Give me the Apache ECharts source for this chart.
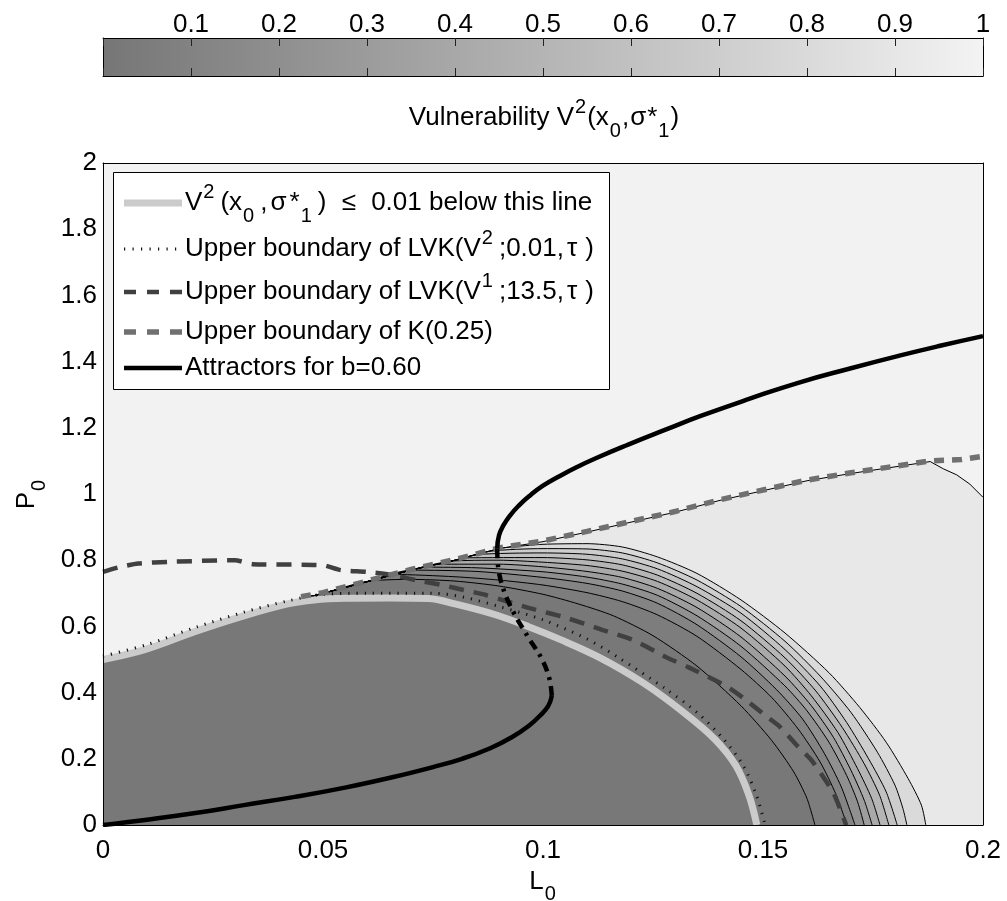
<!DOCTYPE html>
<html>
<head>
<meta charset="utf-8">
<script src="https://cdn.jsdelivr.net/npm/echarts@6/dist/echarts.min.js"></script>
<style>
html,body{margin:0;padding:0;background:#fff;}
#chart{width:1007px;height:901px;}
</style>
</head>
<body>
<div id="chart"></div>
<script>
// ---------- data ----------
var X_TICKS = [0, 0.05, 0.1, 0.15, 0.2];
var Y_TICKS = [0, 0.2, 0.4, 0.6, 0.8, 1, 1.2, 1.4, 1.6, 1.8, 2];
var CB_TICKS = [0.1, 0.2, 0.3, 0.4, 0.5, 0.6, 0.7, 0.8, 0.9, 1];

// upper boundary of the coloured region (thin black line)
var UB = [[0,0.5],[0.01,0.535],[0.02,0.58],[0.03,0.625],[0.04,0.665],[0.05,0.70],[0.06,0.735],[0.07,0.77],[0.08,0.80],[0.09,0.835],[0.10,0.856],[0.11,0.885],[0.12,0.915],[0.13,0.945],[0.14,0.98],[0.15,1.01],[0.16,1.04],[0.17,1.062],[0.18,1.082],[0.188,1.098],[0.191,1.076],[0.194,1.058],[0.197,1.03],[0.2,0.99]];

// contour lines, outermost (level 0.9) to innermost
var C9 = [[0.092,0.839],[0.10,0.848],[0.11,0.85],[0.118,0.84],[0.126,0.81],[0.135,0.76],[0.145,0.68],[0.155,0.58],[0.165,0.46],[0.172,0.355],[0.178,0.25],[0.183,0.14],[0.186,0.06],[0.187,0]];
var C8 = [[0.088,0.827],[0.10,0.835],[0.11,0.834],[0.118,0.822],[0.126,0.792],[0.135,0.74],[0.145,0.66],[0.155,0.555],[0.163,0.45],[0.17,0.34],[0.176,0.22],[0.18,0.12],[0.1818,0.05],[0.1827,0]];
var C7 = [[0.085,0.817],[0.10,0.822],[0.11,0.818],[0.118,0.804],[0.126,0.774],[0.135,0.72],[0.145,0.64],[0.155,0.53],[0.163,0.42],[0.169,0.31],[0.174,0.2],[0.178,0.1],[0.1805,0]];
var C6 = [[0.082,0.807],[0.10,0.808],[0.11,0.801],[0.118,0.786],[0.126,0.755],[0.135,0.70],[0.145,0.617],[0.155,0.505],[0.162,0.405],[0.168,0.295],[0.173,0.185],[0.1765,0.09],[0.1786,0]];
var C5 = [[0.079,0.797],[0.09,0.80],[0.10,0.794],[0.11,0.784],[0.118,0.767],[0.126,0.736],[0.135,0.68],[0.145,0.595],[0.155,0.48],[0.161,0.39],[0.167,0.28],[0.1715,0.17],[0.1747,0.08],[0.1766,0]];
var C4 = [[0.076,0.788],[0.09,0.788],[0.10,0.78],[0.11,0.766],[0.118,0.748],[0.126,0.715],[0.135,0.657],[0.145,0.568],[0.155,0.45],[0.161,0.36],[0.166,0.265],[0.17,0.165],[0.173,0.075],[0.1748,0]];
var C3 = [[0.073,0.779],[0.085,0.777],[0.10,0.765],[0.11,0.749],[0.118,0.728],[0.126,0.694],[0.135,0.632],[0.145,0.54],[0.155,0.42],[0.16,0.345],[0.165,0.25],[0.169,0.15],[0.1715,0.07],[0.173,0]];
var C2 = [[0.07,0.77],[0.085,0.766],[0.10,0.748],[0.11,0.73],[0.118,0.707],[0.126,0.67],[0.135,0.605],[0.145,0.508],[0.153,0.41],[0.159,0.32],[0.164,0.215],[0.1678,0.115],[0.1709,0]];
var C1 = [[0.066,0.757],[0.08,0.75],[0.09,0.74],[0.10,0.725],[0.11,0.702],[0.118,0.675],[0.126,0.635],[0.135,0.57],[0.145,0.47],[0.152,0.385],[0.158,0.29],[0.163,0.19],[0.1665,0.095],[0.1691,0]];
var C0 = [[0.06,0.736],[0.07,0.742],[0.08,0.737],[0.09,0.722],[0.10,0.697],[0.108,0.668],[0.116,0.632],[0.125,0.572],[0.135,0.48],[0.145,0.36],[0.152,0.255],[0.157,0.16],[0.160,0.08],[0.1618,0]];

// fill colours of the bands (grey colormap)
var BAND_COLORS = ['#e8e8e8','#dadada','#cdcdcd','#c1c1c1','#b5b5b5','#a9a9a9','#9d9d9d','#909090','#848484','#7d7d7d','#787878'];

// V^2 <= 0.01 boundary (light grey thick line)
var LIGHT = [[0,0.50],[0.0095,0.53],[0.021,0.585],[0.032,0.632],[0.042,0.668],[0.048,0.68],[0.055,0.685],[0.065,0.686],[0.074,0.684],[0.08,0.668],[0.089,0.636],[0.0966,0.60],[0.104,0.56],[0.113,0.505],[0.1227,0.43],[0.132,0.34],[0.139,0.26],[0.1438,0.18],[0.1468,0.09],[0.1486,0]];
// upper boundary of LVK(V^2;0.01,tau) (dotted)
var DOTTED = [[0,0.51],[0.01,0.545],[0.021,0.597],[0.032,0.643],[0.042,0.677],[0.05,0.697],[0.06,0.70],[0.075,0.70],[0.082,0.688],[0.09,0.66],[0.1,0.62],[0.11,0.562],[0.117,0.507],[0.128,0.41],[0.135,0.34],[0.141,0.26],[0.1455,0.18],[0.1485,0.09],[0.1505,0]];
// upper boundary of LVK(V^1;13.5,tau) (dark dashed)
var V1 = [[0,0.765],[0.004,0.78],[0.008,0.79],[0.015,0.795],[0.03,0.80],[0.034,0.788],[0.05,0.785],[0.054,0.77],[0.06,0.765],[0.066,0.755],[0.071,0.74],[0.077,0.725],[0.082,0.71],[0.087,0.695],[0.092,0.675],[0.097,0.655],[0.105,0.627],[0.1136,0.589],[0.1205,0.559],[0.128,0.507],[0.133,0.477],[0.142,0.417],[0.1456,0.383],[0.151,0.326],[0.1539,0.296],[0.158,0.236],[0.161,0.196],[0.166,0.097],[0.1689,0]];
// upper boundary of K(0.25) (grey dashed)
var K25 = [[0.045,0.69],[0.05,0.702],[0.06,0.737],[0.07,0.772],[0.08,0.802],[0.09,0.837],[0.10,0.858],[0.11,0.887],[0.12,0.917],[0.13,0.947],[0.14,0.982],[0.15,1.012],[0.16,1.042],[0.17,1.064],[0.18,1.084],[0.188,1.1],[0.195,1.104],[0.2,1.114]];
// attractors for b=0.60
var ATT_LOW = [[0,0],[0.01,0.016],[0.021,0.036],[0.032,0.06],[0.0436,0.085],[0.055,0.113],[0.066,0.145],[0.075,0.175],[0.0816,0.20],[0.088,0.232],[0.093,0.266],[0.0968,0.3],[0.0993,0.33],[0.1012,0.36],[0.102,0.39]];
var ATT_MID = [[0.102,0.39],[0.1015,0.44],[0.0998,0.50],[0.0966,0.568],[0.093,0.65],[0.0908,0.72],[0.0898,0.78],[0.0896,0.835]];
var ATT_UP = [[0.0896,0.835],[0.09,0.875],[0.091,0.905],[0.0925,0.935],[0.0945,0.965],[0.097,0.995],[0.1,1.025],[0.1035,1.052],[0.1075,1.08],[0.112,1.108],[0.1195,1.15],[0.128,1.195],[0.1357,1.235],[0.147,1.288],[0.158,1.336],[0.17,1.38],[0.181,1.418],[0.19,1.447],[0.2,1.477]];

var LEGEND_LABELS = [
  '{n|V}{sup|2}{n|(x}{sub|0}{n|,}{sym|σ}{n|*}{sub|1}{n|) }{le|≤}{n| 0.01 below this line}',
  '{n|Upper boundary of LVK(V}{sup|2}{n|;0.01,}{tau|τ}{n|)}',
  '{n|Upper boundary of LVK(V}{sup|1}{n|;13.5,}{tau|τ}{n|)}',
  '{n|Upper boundary of K(0.25)}',
  '{n|Attractors for b=0.60}'
];

// ---------- chart ----------
var FONT = '"Liberation Sans", Arial, Helvetica, sans-serif';
var chart = echarts.init(document.getElementById('chart'), null, {renderer: 'canvas'});

function withPrefix(c) {
  return UB.filter(function (p) { return p[0] < c[0][0] - 1e-9; }).concat(c);
}

var CONTOURS = [C9, C8, C7, C6, C5, C4, C3, C2, C1, C0];

var series = [];
series.push({
  type: 'line', xAxisIndex: 0, yAxisIndex: 0, data: UB, symbol: 'none',
  lineStyle: {color: '#000', width: 1}, areaStyle: {color: BAND_COLORS[0], opacity: 1},
  silent: true, animation: false, z: 2
});
CONTOURS.forEach(function (c, i) {
  series.push({
    type: 'line', xAxisIndex: 0, yAxisIndex: 0, data: withPrefix(c), symbol: 'none', smooth: 0.25,
    lineStyle: {color: '#000', width: 1}, areaStyle: {color: BAND_COLORS[i + 1], opacity: 1},
    silent: true, animation: false, z: 2
  });
});
function plainLine(data, color, width, type, smooth, z) {
  return {
    type: 'line', xAxisIndex: 0, yAxisIndex: 0, data: data, symbol: 'none', smooth: smooth,
    lineStyle: {color: color, width: width, type: type, cap: 'butt'},
    silent: true, animation: false, z: z
  };
}
series.push(plainLine(LIGHT, '#cbcbcb', 7, 'solid', 0.35, 3));
series.push(plainLine(DOTTED, '#111', 3, [1.2, 7], 0.3, 4));
series.push(plainLine(V1, '#404040', 4.5, [15, 10], 0.2, 5));
series.push(plainLine(K25, '#707070', 5.5, [10, 8], 0, 6));
series.push(plainLine(ATT_LOW, '#000', 4.5, 'solid', 0.45, 7));
series.push(plainLine(ATT_MID, '#000', 4.5, [10, 6, 3, 6], 0.35, 7));
series.push(plainLine(ATT_UP, '#000', 4.5, 'solid', 0.5, 7));
// colorbar
series.push({
  type: 'line', xAxisIndex: 2, yAxisIndex: 2, data: [[0, 1], [1, 1]], symbol: 'none',
  lineStyle: {width: 0},
  areaStyle: {opacity: 1, color: {type: 'linear', x: 0, y: 0, x2: 1, y2: 0,
    colorStops: [{offset: 0, color: '#767676'}, {offset: 1, color: '#f3f3f3'}]}},
  silent: true, animation: false
});

var richMain = {
  n: {fontSize: 26, fontFamily: FONT, color: '#000', lineHeight: 46},
  sub: {fontSize: 20, fontFamily: FONT, color: '#000', lineHeight: 20, verticalAlign: 'bottom', padding: [0, 1, 0, 1]}
};
var richLegend = {
  n: {fontSize: 26, fontFamily: FONT, fill: '#000', lineHeight: 46},
  sym: {fontSize: 26, fontFamily: FONT, fill: '#000', lineHeight: 46, padding: [0, 3, 0, 3]},
  le: {fontSize: 26, fontFamily: FONT, fill: '#000', lineHeight: 46, padding: [0, 8, 0, 8]},
  tau: {fontSize: 26, fontFamily: FONT, fill: '#000', lineHeight: 46, padding: [0, 8, 0, 3]},
  sup: {fontSize: 20, fontFamily: FONT, fill: '#000', lineHeight: 20, verticalAlign: 'top', padding: [2, 6, 0, 1]},
  sub: {fontSize: 20, fontFamily: FONT, fill: '#000', lineHeight: 20, verticalAlign: 'bottom', padding: [0, 6, 0, 1]}
};
var richCbLabel = {
  n: {fontSize: 26, fontFamily: FONT, fill: '#000', lineHeight: 46},
  sym: {fontSize: 26, fontFamily: FONT, fill: '#000', lineHeight: 46, padding: [0, 1, 0, 1]},
  sup: {fontSize: 20, fontFamily: FONT, fill: '#000', lineHeight: 20, verticalAlign: 'top', padding: [2, 1, 0, 1]},
  sub: {fontSize: 20, fontFamily: FONT, fill: '#000', lineHeight: 20, verticalAlign: 'bottom', padding: [0, 1, 0, 1]}
};

var axisLineBlack = {show: true, onZero: false, lineStyle: {color: '#000', width: 1}};
var labelStyle = {fontSize: 26, color: '#000', fontFamily: FONT};

// legend (drawn with graphic elements)
var LEG_X = 113, LEG_Y = 172, LEG_W = 496, LEG_H = 217;
var ROW_Y = [203, 249, 292, 332, 368];
var SAMPLE_STYLES = [
  {stroke: '#cbcbcb', lineWidth: 7},
  {stroke: '#111', lineWidth: 3, lineDash: [1.2, 7.3]},
  {stroke: '#404040', lineWidth: 4.5, lineDash: [12, 11]},
  {stroke: '#707070', lineWidth: 5.5, lineDash: [12, 11]},
  {stroke: '#000', lineWidth: 4.5}
];
var graphics = [{
  type: 'rect', z: 100, shape: {x: LEG_X + 0.5, y: LEG_Y + 0.5, width: LEG_W, height: LEG_H},
  style: {fill: '#fff', stroke: '#000', lineWidth: 1}
}];
LEGEND_LABELS.forEach(function (t, i) {
  graphics.push({type: 'line', z: 101, shape: {x1: 124, y1: ROW_Y[i], x2: 182, y2: ROW_Y[i]}, style: SAMPLE_STYLES[i]});
  graphics.push({type: 'text', z: 101, x: 185, y: ROW_Y[i],
    style: {text: t, rich: richLegend, align: 'left', verticalAlign: 'middle', fontSize: 26, fontFamily: FONT, fill: '#000'}});
});
graphics.push({type: 'text', z: 101, x: 544, y: 118,
  style: {text: '{n|Vulnerability V}{sup|2}{n|(x}{sub|0}{n|,}{sym|σ}{n|*}{sub|1}{n|)}', rich: richCbLabel,
    align: 'center', verticalAlign: 'middle', fontSize: 26, fontFamily: FONT, fill: '#000'}});

var option = {
  backgroundColor: '#fff',
  animation: false,
  grid: [
    {left: 103, right: 24, top: 163, bottom: 76, show: true, backgroundColor: '#f2f2f2', borderWidth: 0,
     containLabel: false, outerBoundsMode: 'none'},
    {left: 103, right: 24, top: 38, height: 38, show: false, containLabel: false, outerBoundsMode: 'none'}
  ],
  xAxis: [
    {gridIndex: 0, type: 'value', min: X_TICKS[0], max: X_TICKS[X_TICKS.length - 1], interval: 0.05, position: 'bottom',
     axisLine: axisLineBlack, axisTick: {show: false}, splitLine: {show: false},
     axisLabel: Object.assign({margin: 13}, labelStyle),
     name: '{n|L}{sub|0}', nameLocation: 'middle', nameGap: 27,
     nameTextStyle: {rich: richMain, fontSize: 26, fontFamily: FONT, color: '#000'}, z: 10},
    {gridIndex: 0, type: 'value', min: 0, max: 0.2, position: 'top',
     axisLine: axisLineBlack, axisTick: {show: false}, axisLabel: {show: false}, splitLine: {show: false}, z: 10},
    {gridIndex: 1, type: 'value', min: 0, max: CB_TICKS[CB_TICKS.length - 1], interval: 0.1, position: 'top',
     axisLine: axisLineBlack, axisTick: {show: true, inside: true, length: 8, lineStyle: {color: '#222'}},
     splitLine: {show: false},
     axisLabel: Object.assign({margin: 0, formatter: function (v) { return v === 0 ? '' : String(+v.toFixed(1)); }}, labelStyle), z: 10},
    {gridIndex: 1, type: 'value', min: 0, max: 1, interval: 0.1, position: 'bottom',
     axisLine: axisLineBlack, axisTick: {show: true, inside: true, length: 8, lineStyle: {color: '#222'}},
     axisLabel: {show: false}, splitLine: {show: false}, z: 10}
  ],
  yAxis: [
    {gridIndex: 0, type: 'value', min: Y_TICKS[0], max: Y_TICKS[Y_TICKS.length - 1], interval: 0.2, position: 'left',
     axisLine: axisLineBlack, axisTick: {show: false}, splitLine: {show: false},
     axisLabel: Object.assign({margin: 6}, labelStyle),
     name: '{n|P}{sub|0}', nameLocation: 'middle', nameGap: 41, nameRotate: 90,
     nameTextStyle: {rich: richMain, fontSize: 26, fontFamily: FONT, color: '#000'}, z: 10},
    {gridIndex: 0, type: 'value', min: 0, max: 2, position: 'right',
     axisLine: axisLineBlack, axisTick: {show: false}, axisLabel: {show: false}, splitLine: {show: false}, z: 10},
    {gridIndex: 1, type: 'value', min: 0, max: 1, position: 'left',
     axisLine: axisLineBlack, axisTick: {show: false}, axisLabel: {show: false}, splitLine: {show: false}, z: 10},
    {gridIndex: 1, type: 'value', min: 0, max: 1, position: 'right',
     axisLine: axisLineBlack, axisTick: {show: false}, axisLabel: {show: false}, splitLine: {show: false}, z: 10}
  ],
  series: series,
  graphic: graphics
};
chart.setOption(option);
</script>
</body>
</html>
